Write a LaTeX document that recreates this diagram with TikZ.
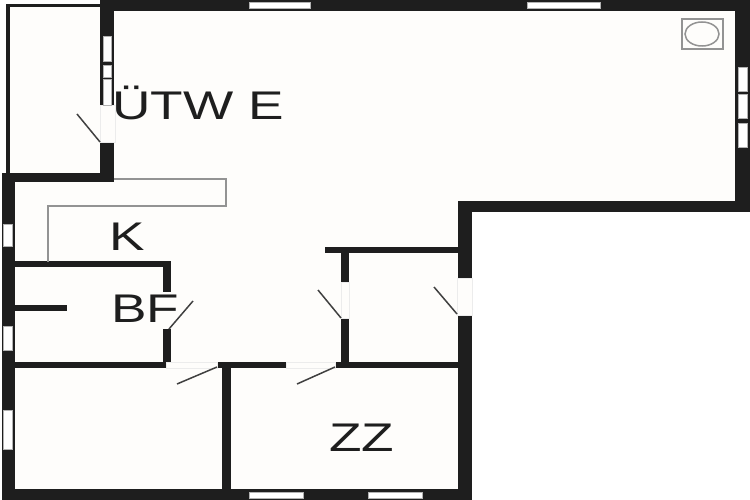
\documentclass[tikz,border=0pt]{standalone}
\usepackage{fontspec}
\setmainfont{Liberation Sans}
\definecolor{wallblack}{HTML}{1E1E1E}
\definecolor{floorwhite}{HTML}{FEFDFB}
\newcommand{\widetext}[1]{\scalebox{1.33}[1]{#1}}
\tikzstyle{wall}=[
	fill=wallblack
]
\tikzstyle{window}=[
	fill=white,
	draw=gray!60,
	line width=0.5pt
]
\tikzstyle{opening}=[
	fill=floorwhite,
	draw=gray!15,
	line width=0.6pt
]
\tikzstyle{leaf}=[
	draw=wallblack!85,
	line width=1.5pt
]
\tikzstyle{fixture}=[
	draw=gray!85,
	line width=1.5pt
]
\tikzstyle{roomlabel}=[
	text=wallblack,
	inner sep=0pt,
	font=\fontsize{40}{40}\selectfont
]

\begin{document}
\begin{tikzpicture}[x=1pt,y=-1pt]
\useasboundingbox (0,0) rectangle (750,500);
\fill [white] (0,0) rectangle (750,500);
\fill [floorwhite] (8,5) -| (735,201) -| (458,489) -| (8,5);
% outer walls
\fill [wall] (101,0) rectangle (750,11);
\fill [wall] (735,0) rectangle (750,212);
\fill [wall] (458,201) rectangle (750,212);
\fill [wall] (458,201) rectangle (472,500);
\fill [wall] (2,489) rectangle (472,500);
\fill [wall] (2,173) rectangle (15,500);
\fill [wall] (2,173) rectangle (114,182);
\fill [wall] (100,0) rectangle (114,182);
\fill [wall] (6,4) rectangle (101,7.5);
\fill [wall] (6,4) rectangle (10,174);
% inner walls
\fill [wall] (15,261) rectangle (171,267);
\fill [wall] (163,261) rectangle (171,292);
\fill [wall] (163,329) rectangle (171,362);
\fill [wall] (15,362) rectangle (166,368);
\fill [wall] (15,305) rectangle (67,311);
\fill [wall] (217,362) rectangle (286,368);
\fill [wall] (222,362) rectangle (231,489);
\fill [wall] (335,362) rectangle (458,368);
\fill [wall] (341,250) rectangle (349,282);
\fill [wall] (341,318) rectangle (349,362);
\fill [wall] (325,247) rectangle (458,253);
% door openings
\path [opening] (100,105) rectangle (115,142);
\path [opening] (341,282) rectangle (349,318);
\path [opening] (457,278) rectangle (472,315);
\path [opening] (166,362) rectangle (217,368);
\path [opening] (286,362) rectangle (335,368);
% door leaves
\draw [leaf] (100,142) -- (77,114);
\draw [leaf] (169,329) -- (193,301);
\draw [leaf] (217,367) -- (177,384);
\draw [leaf] (335,367) -- (297,384);
\draw [leaf] (341,318) -- (318,290);
\draw [leaf] (457,314) -- (434,287);
% windows
\foreach \ya/\yb in {36/61,65/77,79/105}
	\path [window] (103,\ya) rectangle (111,\yb);
\foreach \ya/\yb in {224/246,326/350,410/449}
	\path [window] (3,\ya) rectangle (12,\yb);
\foreach \ya/\yb in {67/91,94/118,123/147}
	\path [window] (738,\ya) rectangle (747,\yb);
\foreach \xa/\xb in {249/310,527/600}
	\path [window] (\xa,2) rectangle (\xb,8);
\foreach \xa/\xb in {249/303,368/422}
	\path [window] (\xa,492) rectangle (\xb,498);
% kitchen and sink
\draw [fixture] (114,179) -| (226,206) -| (48,262);
\draw [fixture] (682,19) rectangle (723,49);
\draw [fixture] (702,34) ellipse [x radius=17, y radius=12];
% room names
\node [roomlabel,anchor=base west] (Living) at (112,120) {\widetext{ÜTW E}};
\node [roomlabel,anchor=base west] (Kitchen) at (109,250) {\widetext{K}};
\node [roomlabel,anchor=base west] (Bath) at (111,322) {\widetext{BF}};
\node [roomlabel,anchor=base west] (Bedroom) at (329,451) {\widetext{ZZ}};
\end{tikzpicture}
\end{document}
